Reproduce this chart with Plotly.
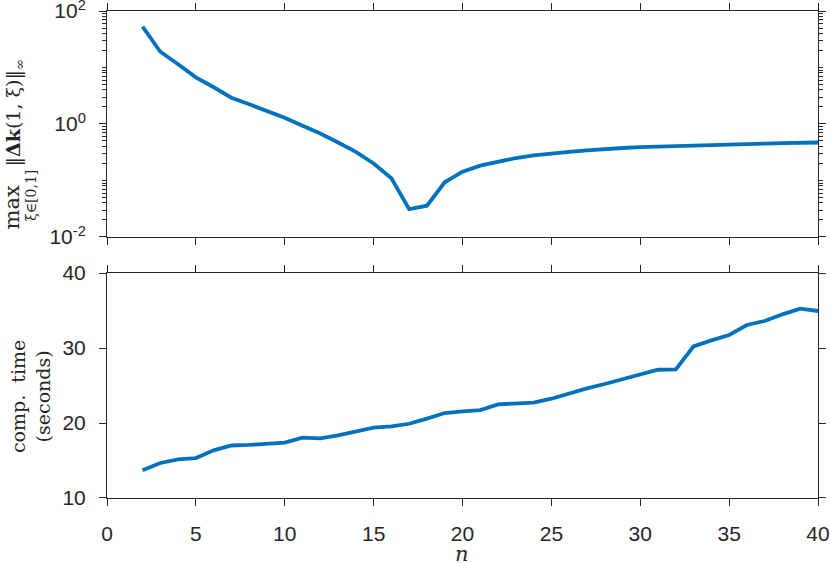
import plotly.graph_objects as go

n = list(range(2, 41))
max_err = [52.7, 19.0, 11.4, 6.7, 4.47, 2.92, 2.23, 1.70, 1.29, 0.93,
           0.68, 0.47, 0.32, 0.20, 0.109, 0.031, 0.0358, 0.093, 0.143, 0.183,
           0.218, 0.25, 0.279, 0.303, 0.32, 0.34, 0.361, 0.376, 0.39, 0.40,
           0.41, 0.42, 0.43, 0.44, 0.445, 0.45, 0.46, 0.465, 0.47]
comp_time = [13.7, 14.67, 15.16, 15.33, 16.36, 17.0, 17.07, 17.2, 17.38, 18.04,
             17.96, 18.36, 18.84, 19.38, 19.56, 19.9, 20.58, 21.33, 21.56, 21.73,
             22.49, 22.62, 22.71, 23.24, 23.96, 24.62, 25.2, 25.87, 26.44, 27.1,
             27.16, 30.22, 31.02, 31.73, 33.07, 33.6, 34.49, 35.24, 34.93]
x_ticks = [0, 5, 10, 15, 20, 25, 30, 35, 40]
log_ticks = [0.01, 1, 100]
log_labels = ["10<sup>-2</sup>", "10<sup>0</sup>", "10<sup>2</sup>"]
lin_ticks = [10, 20, 30, 40]

BLUE = "#0072BD"
AX = "#262626"
TICKFONT = dict(family="Liberation Sans, Arial, sans-serif", size=21, color=AX)
SERIF = "DejaVu Serif, serif"

fig = go.Figure()
fig.add_trace(go.Scatter(x=n, y=max_err, mode="lines", xaxis="x2", yaxis="y2",
                         line=dict(color=BLUE, width=3.8), showlegend=False))
fig.add_trace(go.Scatter(x=n, y=comp_time, mode="lines", xaxis="x", yaxis="y",
                         line=dict(color=BLUE, width=3.8), showlegend=False))

axcommon = dict(showline=True, linecolor=AX, linewidth=1, mirror="allticks",
                ticks="outside", ticklen=7, tickcolor=AX, tickwidth=1,
                showgrid=False, zeroline=False, tickfont=TICKFONT, automargin=False,
                ticklabeloverflow="allow")

fig.update_layout(
    width=830, height=563,
    margin=dict(l=107, r=12, t=11, b=65),
    paper_bgcolor="white", plot_bgcolor="white",
    xaxis=dict(domain=[0, 1], range=[0, 40], tickvals=x_ticks, anchor="y",
               ticklabelstandoff=10, **axcommon),
    yaxis=dict(domain=[0, 0.462], range=[10, 40], tickvals=lin_ticks, anchor="x",
               ticklabelstandoff=9, **axcommon),
    xaxis2=dict(domain=[0, 1], range=[0, 40], tickvals=x_ticks, anchor="y2",
                showticklabels=False, **axcommon),
    yaxis2=dict(domain=[0.536, 1], type="log", range=[-2.00001, 2.00001], tickvals=log_ticks,
                ticktext=log_labels, anchor="x2", ticklabelstandoff=9,
                minor=dict(ticks="outside", ticklen=4, tickcolor=AX, dtick="D1", showgrid=False),
                **axcommon),
)

def ann(text, x, y, size, angle=0, family=SERIF):
    fig.add_annotation(text=text, x=x, y=y, xref="paper", yref="paper",
                       xanchor="center", yanchor="middle", showarrow=False,
                       textangle=angle, font=dict(family=family, size=size, color=AX))

ann("‖<b>Δk</b>(1, ξ)‖<sub>∞</sub>", -0.1301, 0.7906, 19, -90)
ann("max", -0.1330, 0.5975, 21, -90)
ann("ξ∈[0,1]", -0.1070, 0.622, 14, -90)
ann("comp.  time<br>(seconds)", -0.1083, 0.2094, 19, -90)
ann("<i>n</i>", 0.4993, -0.116, 21)

fig.write_html("out.html", config={"displayModeBar": False},
               post_script="document.body.style.margin='0px';")
